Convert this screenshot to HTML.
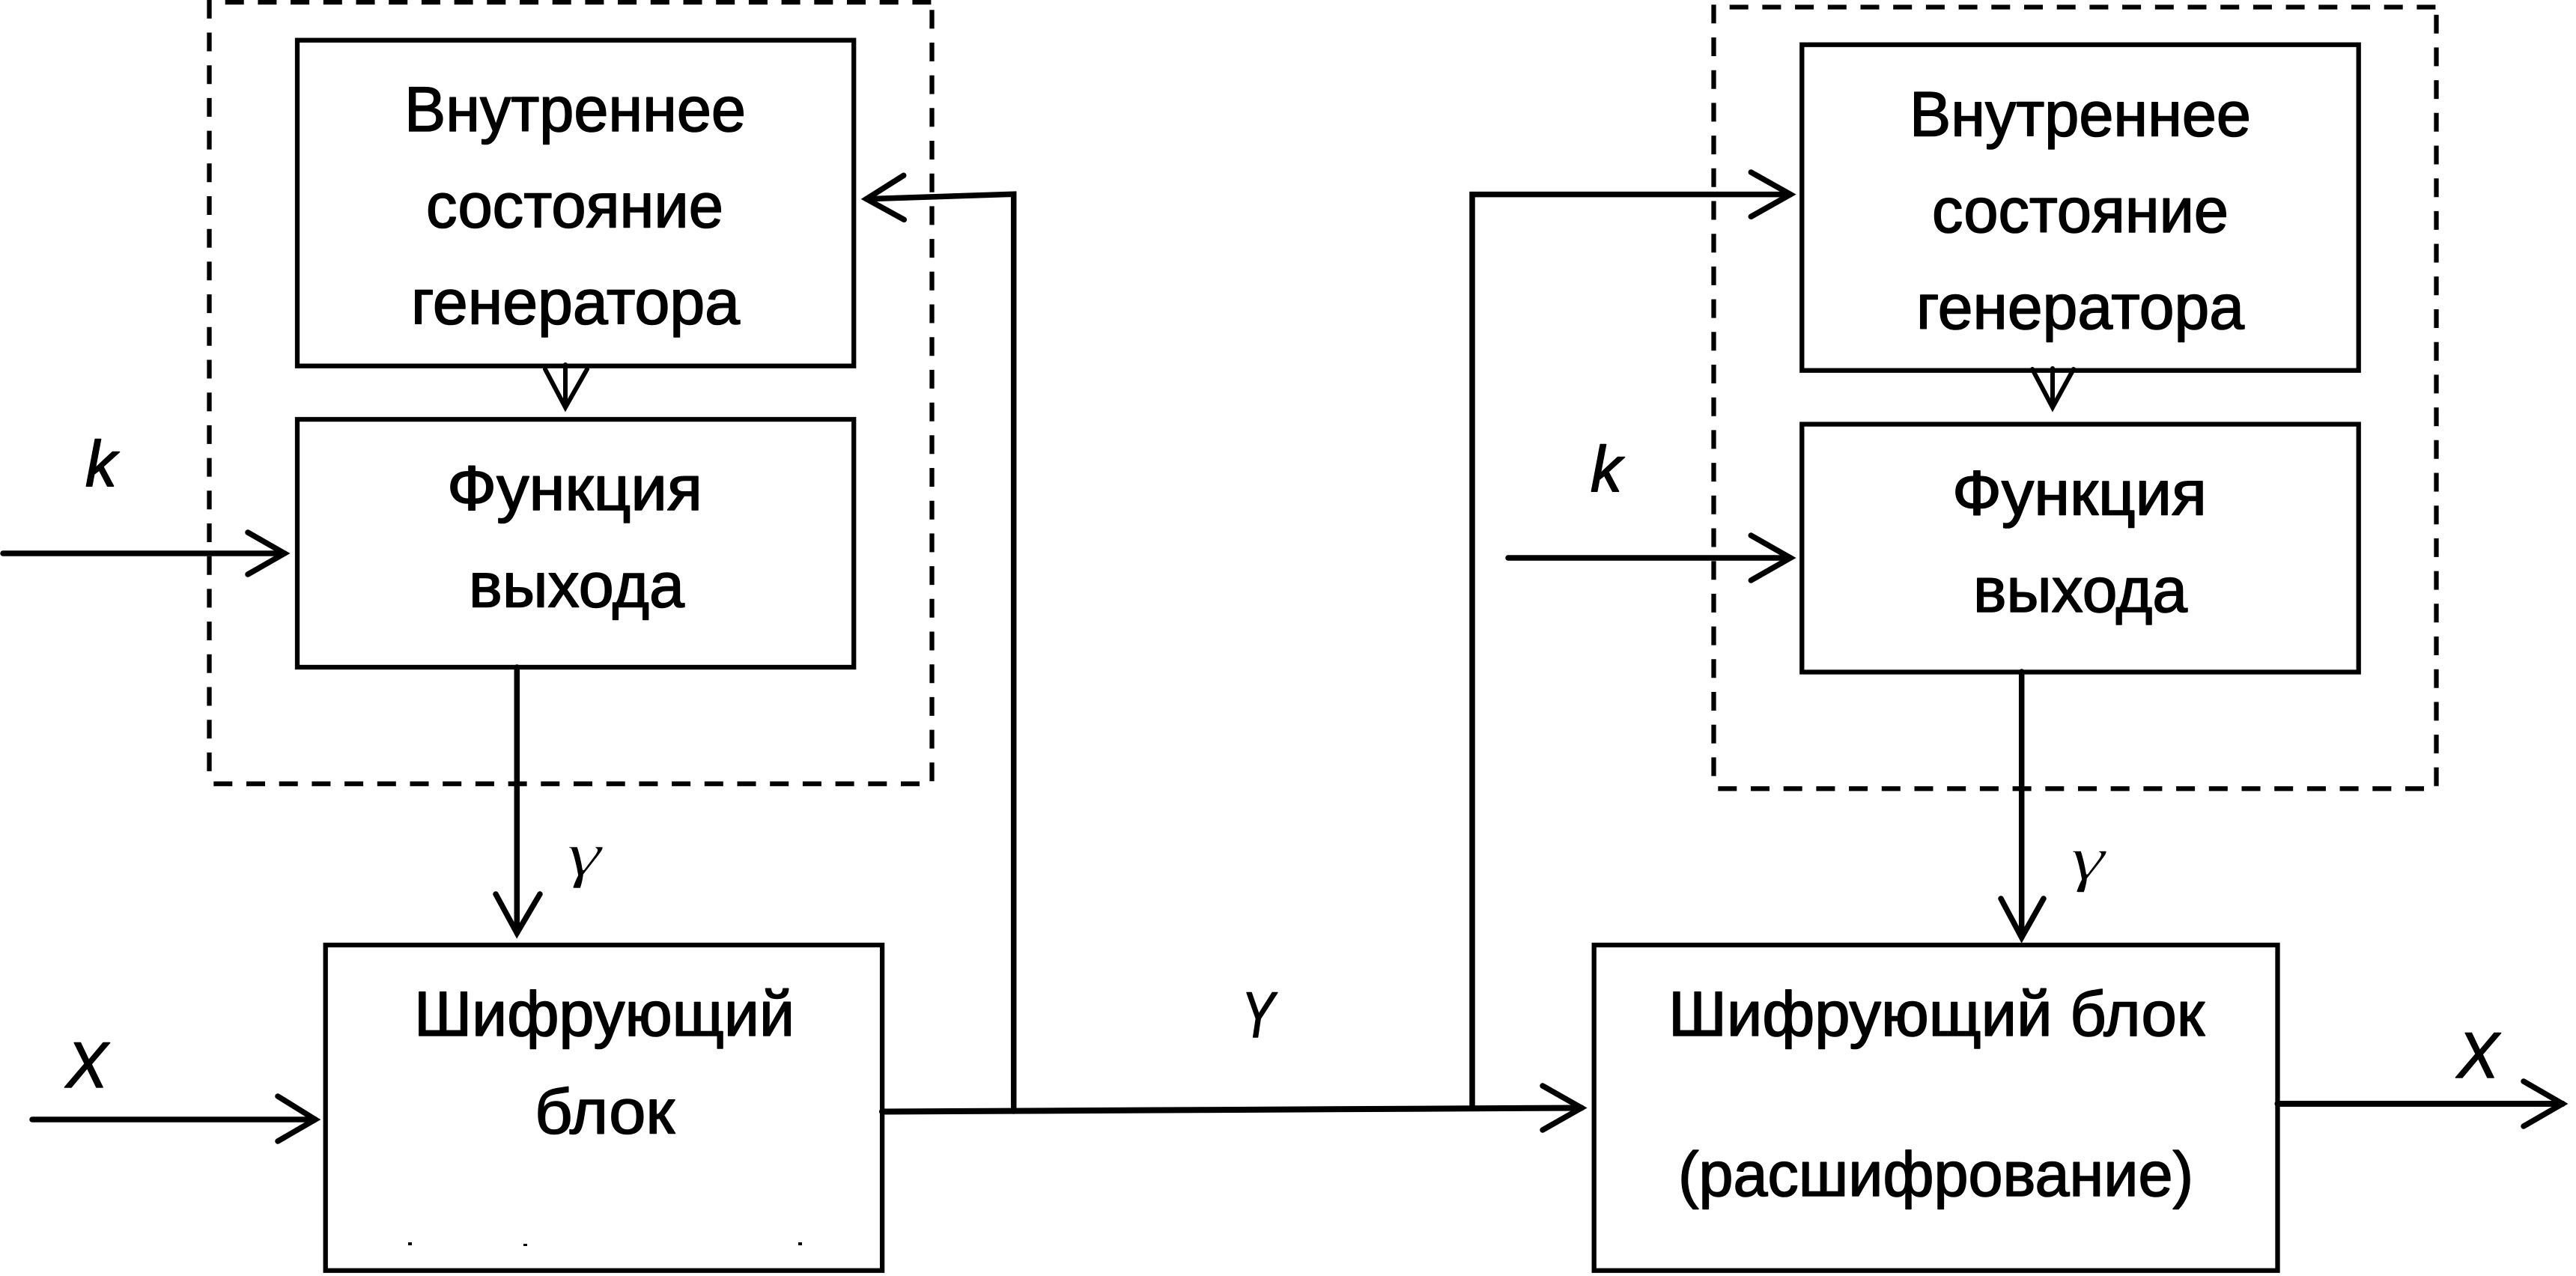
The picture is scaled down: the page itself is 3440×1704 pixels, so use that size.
<!DOCTYPE html>
<html><head><meta charset="utf-8"><style>
html,body{margin:0;padding:0;background:#fff;width:3440px;height:1704px;overflow:hidden}
svg{display:block}
text{fill:#000;stroke:#000;stroke-width:1.6;stroke-linejoin:round;font-family:"Liberation Sans",sans-serif}
.t{font-size:84px}
.i{font-style:italic;font-size:86px}
.g{font-family:"Liberation Serif",serif;font-style:italic;font-size:84px;stroke:#fff;stroke-width:1.4}
</style></head><body>
<svg width="3440" height="1704" viewBox="0 0 3440 1704" xmlns="http://www.w3.org/2000/svg">
<rect width="3440" height="1704" fill="#fff"/>
<!-- right dashed frame -->
<g fill="none" stroke="#000" stroke-width="6.3" stroke-dasharray="25 18.7">
<path d="M2288.5 6.3V1040"/>
<path d="M2309.7 9.5H3253"/>
<path d="M3253.5 19.7V1050.3"/>
<path d="M3237 1053.2H2290"/>
</g>
<!-- left dashed frame -->
<g fill="none" stroke="#000" stroke-width="6.3" stroke-dasharray="25 18.7" transform="translate(-2009,-6.5)">
<path d="M2288.5 6.3V1040"/>
<path d="M2309.7 9.5H3253"/>
<path d="M3253.5 19.7V1050.3"/>
<path d="M3237 1053.2H2290"/>
</g>
<g fill="none" stroke="#000" stroke-width="6.3">
<rect x="397" y="53.7" width="743.2" height="435"/>
<rect x="397" y="560" width="743.2" height="331"/>
<rect x="2406.3" y="59.7" width="743.4" height="435"/>
<rect x="2406.3" y="566.5" width="743.4" height="331"/>
<rect x="434.7" y="1262" width="743.4" height="434.7"/>
<rect x="2128.7" y="1262" width="912.8" height="434.7"/>
</g>
<rect x="0" y="1700" width="3440" height="4" fill="#fff"/>
<g fill="none" stroke="#000" stroke-width="7.5" stroke-linecap="round" stroke-linejoin="miter" stroke-miterlimit="12">
<!-- left -->
<path d="M755 487V541" stroke-width="6"/>
<path d="M728 493L755 544L784 493" stroke-width="6"/>
<path d="M4 739H380"/>
<path d="M331 711L380 739L331 767"/>
<path d="M690.3 891V1246"/>
<path d="M662 1194L690.3 1246L721 1194"/>
<path d="M43 1495H421"/>
<path d="M371 1464L421 1495L371 1524"/>
<path d="M1353.7 1484V259.3L1157 265.7"/>
<path d="M1206.7 234.3L1157 265.7L1207.3 293.3"/>
<!-- main -->
<path d="M1178 1484.5L2112 1479.5" stroke-width="8"/>
<path d="M2060 1450L2112 1479.5L2060 1509"/>
<path d="M1966 1480V259.6H2391"/>
<path d="M2338.3 230L2391 259.6L2338.3 289.3"/>
<!-- right -->
<path d="M2741 492V541" stroke-width="6"/>
<path d="M2714 493L2741 544L2769 493" stroke-width="6"/>
<path d="M2014 745H2391"/>
<path d="M2338.3 715L2391 745L2338.3 775"/>
<path d="M2699.7 897V1252"/>
<path d="M2672 1200L2699.7 1252L2729 1200"/>
<path d="M3041.5 1474H3422" stroke-width="8"/>
<path d="M3370 1444L3422 1474L3370 1504"/>
</g>
<g fill="#000"><rect x="545" y="1659" width="5" height="4"/><rect x="699" y="1661" width="5" height="3"/><rect x="1066" y="1659" width="5" height="4"/></g>

<text class="t" x="540" y="175" textLength="456" lengthAdjust="spacingAndGlyphs">Внутреннее</text>
<text class="t" x="569" y="303.5" textLength="397" lengthAdjust="spacingAndGlyphs">состояние</text>
<text class="t" x="549" y="432.5" textLength="439" lengthAdjust="spacingAndGlyphs">генератора</text>
<text class="t" x="597" y="681" textLength="341" lengthAdjust="spacingAndGlyphs">Функция</text>
<text class="t" x="626" y="810.5" textLength="288" lengthAdjust="spacingAndGlyphs">выхода</text>

<text class="t" x="2550" y="181.5" textLength="456" lengthAdjust="spacingAndGlyphs">Внутреннее</text>
<text class="t" x="2580" y="310" textLength="396" lengthAdjust="spacingAndGlyphs">состояние</text>
<text class="t" x="2559" y="439" textLength="438" lengthAdjust="spacingAndGlyphs">генератора</text>
<text class="t" x="2607" y="687.5" textLength="340" lengthAdjust="spacingAndGlyphs">Функция</text>
<text class="t" x="2635" y="817" textLength="286" lengthAdjust="spacingAndGlyphs">выхода</text>

<text class="t" x="553" y="1383" textLength="508" lengthAdjust="spacingAndGlyphs">Шифрующий</text>
<text class="t" x="714" y="1513.5" textLength="187" lengthAdjust="spacingAndGlyphs">блок</text>
<text class="t" x="2228" y="1383" textLength="716" lengthAdjust="spacingAndGlyphs">Шифрующий блок</text>
<text class="t" x="2241" y="1597" textLength="688" lengthAdjust="spacingAndGlyphs">(расшифрование)</text>

<text class="i" x="114" y="649" textLength="42" lengthAdjust="spacingAndGlyphs">k</text>
<text class="i" x="2124" y="656" textLength="42" lengthAdjust="spacingAndGlyphs">k</text>
<text class="i" x="88" y="1452" textLength="56" lengthAdjust="spacingAndGlyphs">X</text>
<text class="i" x="3281" y="1439" textLength="56" lengthAdjust="spacingAndGlyphs">X</text>
<text class="i" x="1658" y="1385" textLength="44" lengthAdjust="spacingAndGlyphs">Y</text>
<text class="g" x="757" y="1168.5" textLength="46" lengthAdjust="spacingAndGlyphs">γ</text>
<text class="g" x="2765" y="1174" textLength="46" lengthAdjust="spacingAndGlyphs">γ</text>
</svg>
</body></html>
